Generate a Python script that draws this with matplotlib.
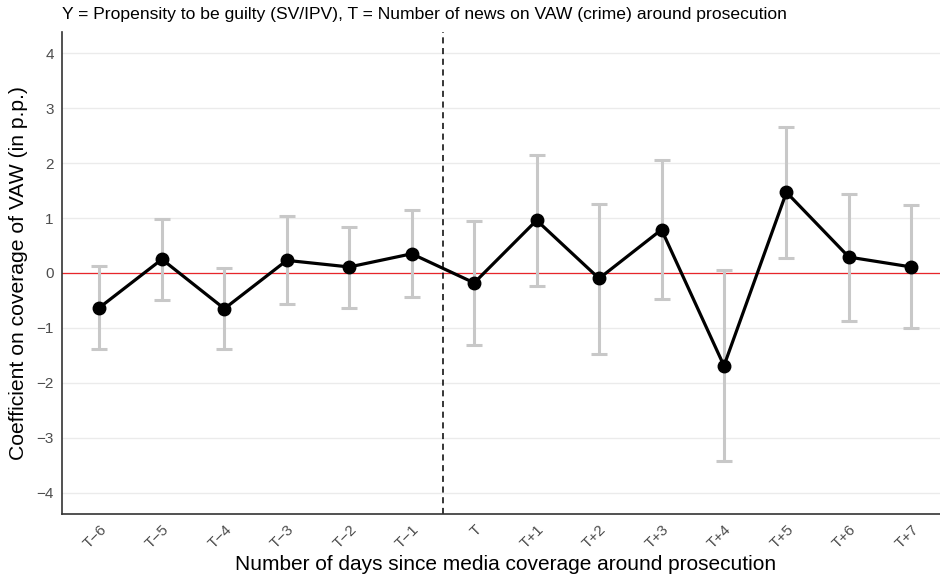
import matplotlib.pyplot as plt
import numpy as np

plt.rcParams['font.family'] = ['Liberation Sans', 'DejaVu Sans']

# event-time labels and estimates
days = [-6, -5, -4, -3, -2, -1, 0, 1, 2, 3, 4, 5, 6, 7]
labels = ['T\u22126', 'T\u22125', 'T\u22124', 'T\u22123', 'T\u22122', 'T\u22121', 'T',
          'T+1', 'T+2', 'T+3', 'T+4', 'T+5', 'T+6', 'T+7']
coef = [-0.63, 0.25, -0.65, 0.23, 0.11, 0.35, -0.18, 0.96, -0.10, 0.79, -1.69, 1.47, 0.29, 0.11]
ci_low = [-1.38, -0.49, -1.39, -0.57, -0.64, -0.445, -1.31, -0.23, -1.48, -0.48, -3.42, 0.28, -0.87, -1.01]
ci_high = [0.135, 0.98, 0.095, 1.04, 0.845, 1.15, 0.94, 2.15, 1.26, 2.05, 0.05, 2.66, 1.445, 1.23]

coef = np.array(coef)
yerr = [coef - np.array(ci_low), np.array(ci_high) - coef]

fig = plt.figure(figsize=(9.4, 5.82), dpi=100)
ax = fig.add_axes([62 / 940, 68 / 582, 886.8 / 940, 482 / 582])

ax.set_axisbelow(True)
ax.grid(axis='y', color='#ebebeb', lw=1.0)
ax.axhline(0, color='#e8262b', lw=0.9, zorder=1)
ax.errorbar(days, coef, yerr=yerr, fmt='none', ecolor='#c8c8c8', elinewidth=2.2,
            capsize=6, capthick=2.2, zorder=2)
ax.plot(days, coef, color='black', lw=2.3, marker='o', ms=9, zorder=3)
ax.axvline(-0.5, color='black', lw=1.1, ls=(0, (4, 3)), zorder=2)

ax.set_xlim(-6.6, 7.6)
ax.set_ylim(-4.39, 4.39)
ax.set_yticks(range(-4, 5))
ax.set_yticklabels([str(v).replace('-', '\u2212') for v in range(-4, 5)])
ax.set_xticks(days)
ax.set_xticklabels(labels, rotation=45, ha='right', rotation_mode='anchor')

for s in ['top', 'right']:
    ax.spines[s].set_visible(False)
for s in ['left', 'bottom']:
    ax.spines[s].set_color('#333333')
    ax.spines[s].set_linewidth(1.2)
ax.tick_params(length=0, labelsize=11, labelcolor='#4d4d4d', pad=6)

ax.set_xlabel('Number of days since media coverage around prosecution', fontsize=15, labelpad=3)
ax.set_ylabel('Coefficient on coverage of VAW (in p.p.)', fontsize=15.2, labelpad=6)
fig.text(62 / 940, 1 - 19 / 582,
         'Y = Propensity to be guilty (SV/IPV), T = Number of news on VAW (crime) around prosecution',
         fontsize=12.6, ha='left', va='baseline')

fig.savefig('out.png', dpi=100)
